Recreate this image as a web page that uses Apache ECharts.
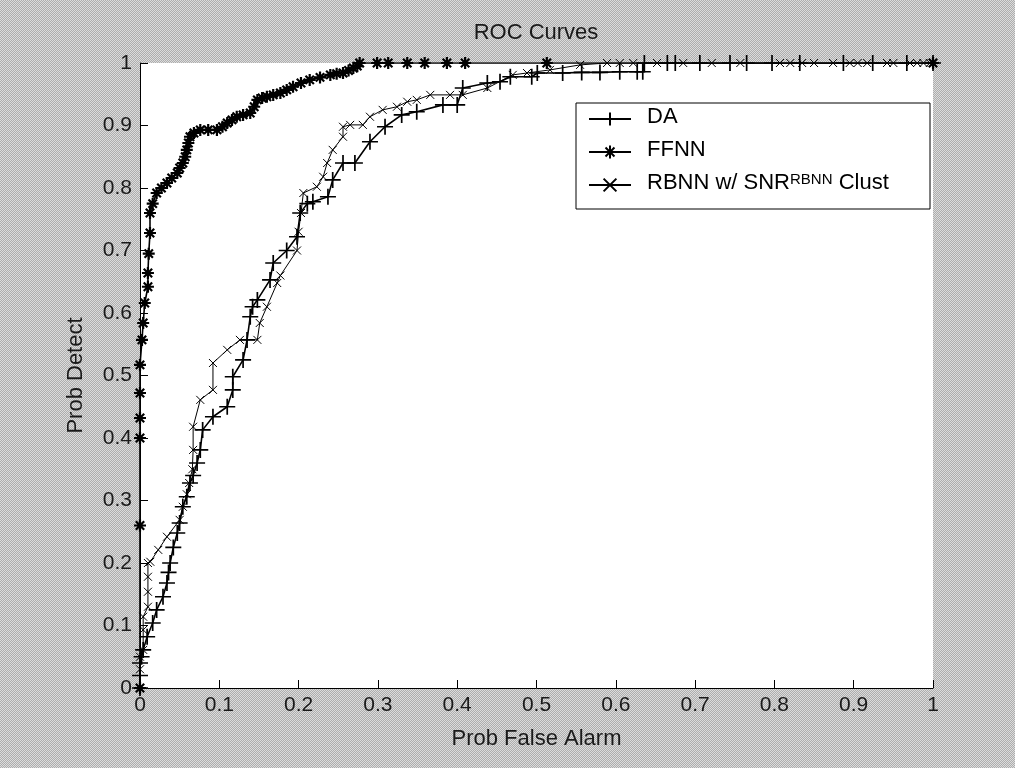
<!DOCTYPE html>
<html><head><meta charset="utf-8">
<script src="https://cdn.jsdelivr.net/npm/echarts@6/dist/echarts.min.js"></script>
<style>html,body{margin:0;padding:0;width:1015px;height:768px;overflow:hidden}#chart{width:1015px;height:768px}</style>
</head><body><div id="chart"></div><script>
// ---- data ----
const chartTitle = 'ROC Curves';
const xName = 'Prob False Alarm';
const yName = 'Prob Detect';
const seriesNames = ['DA', 'FFNN', 'RBNN w/ SNR^RBNN Clust'];

const daPoints = [
  [0,0],[0,0.02],[0,0.04],[0.002,0.05],[0.004,0.061],[0.009,0.082],[0.016,0.104],[0.021,0.125],
  [0.029,0.146],[0.034,0.168],[0.036,0.185],[0.038,0.2],[0.042,0.225],[0.047,0.248],[0.05,0.264],
  [0.054,0.29],[0.059,0.306],[0.063,0.328],[0.067,0.34],[0.072,0.36],[0.076,0.381],[0.079,0.413],
  [0.092,0.434],[0.11,0.45],[0.117,0.477],[0.117,0.498],[0.13,0.525],[0.135,0.557],[0.139,0.594],
  [0.142,0.61],[0.148,0.621],[0.164,0.653],[0.168,0.68],[0.185,0.7],[0.198,0.722],[0.202,0.76],
  [0.211,0.775],[0.218,0.778],[0.237,0.786],[0.243,0.813],[0.256,0.84],[0.271,0.84],[0.29,0.874],
  [0.309,0.898],[0.33,0.917],[0.349,0.922],[0.382,0.933],[0.4,0.933],[0.407,0.96],[0.438,0.968],
  [0.454,0.97],[0.467,0.978],[0.494,0.978],[0.501,0.984],[0.533,0.984],[0.557,0.985],[0.58,0.985],
  [0.605,0.986],[0.627,0.986],[0.634,0.986],[0.636,1],[0.665,1],[0.675,1],[0.706,1],[0.744,1],
  [0.765,1],[0.797,1],[0.832,1],[0.887,1],[0.924,1],[0.967,1],[1,1]
];

const ffnnPoints = [
  [0,0],[0,0.26],[0,0.4],[0,0.432],[0,0.472],[0,0.517],[0.0025,0.557],[0.004,0.584],[0.006,0.616],
  [0.01,0.642],[0.01,0.664],[0.011,0.695],[0.0126,0.728],[0.0126,0.76],[0.016,0.775],[0.021,0.792],
  [0.027,0.8],[0.034,0.808],[0.04,0.816],[0.047,0.824],[0.05,0.832],[0.054,0.84],[0.057,0.85],
  [0.059,0.861],[0.061,0.872],[0.063,0.882],[0.068,0.888],[0.076,0.893],[0.086,0.893],[0.097,0.893],
  [0.104,0.898],[0.11,0.904],[0.116,0.909],[0.122,0.914],[0.13,0.917],[0.139,0.92],[0.144,0.93],
  [0.148,0.941],[0.154,0.944],[0.16,0.946],[0.168,0.949],[0.177,0.952],[0.185,0.957],[0.193,0.962],
  [0.203,0.968],[0.214,0.973],[0.227,0.977],[0.24,0.981],[0.248,0.983],[0.256,0.984],[0.263,0.988],
  [0.269,0.992],[0.274,0.995],[0.277,1],[0.299,1],[0.313,1],[0.337,1],[0.359,1],[0.387,1],[0.41,1],
  [0.513,1],[1,1]
];

const rbnnPoints = [
  [0,0],[0,0.03],[0,0.05],[0.004,0.061],[0.004,0.093],[0.004,0.114],[0.01,0.13],[0.01,0.154],
  [0.01,0.178],[0.01,0.2],[0.013,0.202],[0.023,0.221],[0.034,0.242],[0.05,0.269],[0.054,0.29],
  [0.059,0.31],[0.062,0.328],[0.066,0.35],[0.067,0.381],[0.067,0.418],[0.076,0.461],[0.092,0.477],
  [0.092,0.52],[0.11,0.541],[0.126,0.557],[0.148,0.557],[0.151,0.584],[0.16,0.61],[0.173,0.648],
  [0.177,0.66],[0.198,0.7],[0.2,0.73],[0.203,0.76],[0.206,0.792],[0.223,0.802],[0.231,0.818],
  [0.236,0.84],[0.243,0.861],[0.256,0.882],[0.256,0.898],[0.265,0.901],[0.281,0.901],[0.29,0.914],
  [0.306,0.925],[0.324,0.93],[0.337,0.938],[0.349,0.941],[0.366,0.949],[0.391,0.949],[0.407,0.949],
  [0.438,0.96],[0.47,0.981],[0.488,0.984],[0.517,0.989],[0.555,0.997],[0.589,1],[0.605,1],[0.622,1],
  [0.652,1],[0.685,1],[0.721,1],[0.757,1],[0.807,1],[0.82,1],[0.835,1],[0.85,1],[0.874,1],[0.895,1],
  [0.905,1],[0.917,1],[0.942,1],[0.95,1],[0.971,1],[0.98,1],[0.988,1],[0.996,1],[1,1]
];

// ---- dithered grey background ----
(function(){
  const c = document.createElement('canvas'); c.width = 4; c.height = 4;
  const g = c.getContext('2d');
  for (let i = 0; i < 4; i++) for (let j = 0; j < 4; j++) {
    g.fillStyle = ((i + j) % 2) ? '#adadad' : '#dcdcdc';
    g.fillRect(i, j, 1, 1);
  }
  document.body.style.background = 'url(' + c.toDataURL() + ') repeat';
})();

const FONT = 'Liberation Sans, Arial, sans-serif';
const TXT = '#1a1a1a';
const symPlus = 'path://M0,5L10,5M5,0L5,10';
const symStar = 'path://M0,5L10,5M5,0L5,10M1.5,1.5L8.5,8.5M8.5,1.5L1.5,8.5';
const symX = 'path://M0,0L10,10M10,0L0,10';

const chart = echarts.init(document.getElementById('chart'), null, {renderer: 'canvas'});
chart.setOption({
  backgroundColor: 'transparent',
  animation: false,
  title: {
    text: chartTitle, left: 536, top: 22, textAlign: 'center', padding: 0,
    textStyle: {fontFamily: FONT, fontSize: 22, fontWeight: 'normal', color: TXT}
  },
  grid: {left: 140, right: 82, top: 63, bottom: 80, show: true, backgroundColor: '#ffffff', borderWidth: 0},
  xAxis: {
    type: 'value', min: 0, max: 1, interval: 0.1,
    name: xName, nameLocation: 'middle', nameGap: 40,
    nameTextStyle: {fontFamily: FONT, fontSize: 22, color: TXT},
    axisLine: {show: true, onZero: false, lineStyle: {color: '#000', width: 1}},
    axisTick: {show: true, inside: true, length: 8, lineStyle: {color: '#000'}},
    axisLabel: {margin: 7, fontFamily: FONT, fontSize: 21, color: TXT},
    splitLine: {show: false}
  },
  yAxis: {
    type: 'value', min: 0, max: 1, interval: 0.1,
    name: yName, nameLocation: 'middle', nameGap: 53,
    nameTextStyle: {fontFamily: FONT, fontSize: 22, color: TXT},
    axisLine: {show: true, onZero: false, lineStyle: {color: '#000', width: 1}},
    axisTick: {show: true, inside: true, length: 8, lineStyle: {color: '#000'}},
    axisLabel: {margin: 8, fontFamily: FONT, fontSize: 21, color: TXT},
    splitLine: {show: false}
  },
  legend: {
    orient: 'vertical', left: 588, top: 106, padding: 0,
    itemWidth: 42, itemHeight: 16, itemGap: 7, selectedMode: false,
    data: seriesNames,
    formatter: function (n) { return n.indexOf('^') >= 0 ? n.replace('^RBNN', '{sup|RBNN}') : n; },
    textStyle: {
      fontFamily: FONT, fontSize: 22, color: '#000', lineHeight: 22, padding: [0, 0, 4, 11],
      rich: {sup: {fontFamily: FONT, fontSize: 15, lineHeight: 15, verticalAlign: 'top', color: '#000'}}
    }
  },
  graphic: [{
    type: 'rect', z: 3, silent: true,
    shape: {x: 576, y: 103, width: 354, height: 106},
    style: {fill: '#fff', stroke: '#000', lineWidth: 1}
  }],
  series: [
    {
      name: seriesNames[0], type: 'line', data: daPoints, showAllSymbol: true,
      symbol: symPlus, symbolSize: 16,
      itemStyle: {color: 'none', borderColor: '#000', borderWidth: 1.7},
      lineStyle: {color: '#000', width: 1.6}
    },
    {
      name: seriesNames[1], type: 'line', data: ffnnPoints, showAllSymbol: true,
      symbol: symStar, symbolSize: 12,
      itemStyle: {color: 'none', borderColor: '#000', borderWidth: 2.2},
      lineStyle: {color: '#000', width: 1.6}
    },
    {
      name: seriesNames[2], type: 'line', data: rbnnPoints, showAllSymbol: true,
      symbol: symX, symbolSize: 8,
      itemStyle: {color: 'none', borderColor: '#000', borderWidth: 1},
      lineStyle: {color: '#000', width: 1}
    }
  ]
});
</script></body></html>
